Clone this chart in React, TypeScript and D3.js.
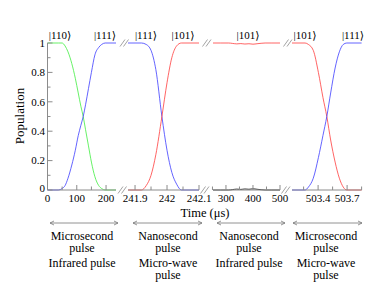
import React from "react";
import * as d3 from "d3";

// ---- data ----
const t1 = [0, 37, 50, 60, 70, 83, 95, 105, 114, 122, 130, 140, 150, 162, 175, 185, 197, 234];
const blue1 = [0, 0, 0.01, 0.03, 0.08, 0.17, 0.27, 0.37, 0.44, 0.5, 0.58, 0.69, 0.8, 0.92, 0.97, 0.99, 1, 1];
const green1 = [1, 1, 1, 0.98, 0.94, 0.86, 0.76, 0.66, 0.57, 0.5, 0.41, 0.3, 0.19, 0.09, 0.03, 0.01, 0, 0];

const t2 = [241.878, 241.92, 241.935, 241.95, 241.965, 241.984, 242.0, 242.015, 242.03, 242.045, 242.1];
const blue2 = [1, 1, 0.99, 0.95, 0.82, 0.5, 0.27, 0.12, 0.04, 0, 0];
const red2 = [0, 0, 0.03, 0.1, 0.24, 0.5, 0.73, 0.9, 0.98, 1, 1];

const t3 = [252, 280, 310, 325, 340, 355, 370, 385, 400, 415, 430, 445, 470, 500];
const red3 = [1, 1, 1, 0.997, 0.994, 0.996, 0.993, 0.995, 0.992, 0.995, 0.998, 1, 1, 1];
const black3 = [0, 0, 0, 0.003, 0.006, 0.004, 0.007, 0.005, 0.008, 0.005, 0.002, 0, 0, 0];

const t4 = [503.13, 503.265, 503.3, 503.35, 503.403, 503.45, 503.49, 503.53, 503.576, 503.62, 503.66, 503.697, 503.85];
const blue4 = [0, 0, 0.02, 0.08, 0.22, 0.37, 0.5, 0.66, 0.83, 0.94, 0.99, 1, 1];
const red4 = [1, 1, 0.99, 0.95, 0.8, 0.63, 0.5, 0.34, 0.19, 0.08, 0.02, 0, 0];

const ticks1 = [0, 50, 100, 150, 200];
const labels1 = ["0", "100", "200"];
const ticks2 = [241.9, 241.95, 242, 242.05, 242.1];
const labels2 = ["241.9", "242", "242.1"];
const ticks3 = [250, 300, 350, 400, 450, 500];
const labels3 = ["300", "400", "500"];
const ticks4 = [503.25, 503.4, 503.55, 503.7, 503.85];
const labels4 = ["503.4", "503.7"];

const yTicks = [0, 0.2, 0.4, 0.6, 0.8, 1];
const yMinor = [0.1, 0.3, 0.5, 0.7, 0.9];
const yLabels = ["0", "0.2", "0.4", "0.6", "0.8", "1"];

const stateLabels = [
  ["|110⟩", "|111⟩"],
  ["|111⟩", "|101⟩"],
  ["|101⟩"],
  ["|101⟩", "|111⟩"],
];

const captions = [
  ["Microsecond", "pulse", "Infrared pulse"],
  ["Nanosecond", "pulse", "Micro-wave", "pulse"],
  ["Nanosecond", "pulse", "Infrared pulse"],
  ["Microsecond", "pulse", "Micro-wave", "pulse"],
];

const GREEN = "#40ee40";
const BLUE = "#3c3cff";
const RED = "#ff3c3c";
const AXIS = "#8c8c8c";
const FONT = "Liberation Serif, Times New Roman, DejaVu Serif, serif";

type Series = { t: number[]; v: number[]; color: string };

const panels = [
  {
    domain: [0, 234], range: [47.5, 116],
    ticks: ticks1, labels: labels1, labelVals: [0, 100, 200],
    series: [{ t: t1, v: green1, color: GREEN }, { t: t1, v: blue1, color: BLUE }] as Series[],
    stateX: [60, 105],
  },
  {
    domain: [241.878, 242.1], range: [128, 199],
    ticks: ticks2, labels: labels2, labelVals: [241.9, 242, 242.1],
    series: [{ t: t2, v: blue2, color: BLUE }, { t: t2, v: red2, color: RED }] as Series[],
    stateX: [146, 183],
  },
  {
    domain: [252, 500], range: [213, 280],
    ticks: ticks3, labels: labels3, labelVals: [300, 400, 500],
    series: [{ t: t3, v: red3, color: RED }, { t: t3, v: black3, color: "#000" }] as Series[],
    stateX: [248],
  },
  {
    domain: [503.13, 503.85], range: [292, 361.6],
    ticks: ticks4, labels: labels4, labelVals: [503.4, 503.7],
    series: [{ t: t4, v: red4, color: RED }, { t: t4, v: blue4, color: BLUE }] as Series[],
    stateX: [305, 353],
  },
];

const breaks = [122.5, 205, 286];
const captionX = [82, 168, 249, 326];
const arrows = [[50, 118], [133, 202], [217, 285], [293, 362]];

const txt = { fontFamily: FONT };

export default function App() {
  const y = d3.scaleLinear().domain([0, 1]).range([190, 43]);
  const x0 = 47.5;

  const breakMark = (cx: number, cy: number, key: string) => (
    <g key={key} stroke={AXIS} strokeWidth={0.8}>
      <line x1={cx - 4.5} y1={cy + 3.5} x2={cx + 0.5} y2={cy - 3.5} />
      <line x1={cx - 1} y1={cy + 3.5} x2={cx + 4} y2={cy - 3.5} />
    </g>
  );

  return (
    <svg width={375} height={289} style={{ position: "absolute", left: 0, top: 0, background: "#fff" }}>
      {/* curves */}
      {panels.map((p, i) => {
        const x = d3.scaleLinear().domain(p.domain).range(p.range);
        return (
          <g key={"c" + i}>
            {p.series.map((s, j) => {
              const line = d3
                .line<number>()
                .x((_, k) => x(s.t[k]))
                .y((d) => y(d))
                .curve(d3.curveMonotoneX);
              return <path key={j} d={line(s.v) || ""} fill="none" stroke={s.color} strokeWidth={0.8} />;
            })}
          </g>
        );
      })}

      {/* y axis */}
      <line x1={x0} x2={x0} y1={y(0)} y2={y(1)} stroke={AXIS} strokeWidth={1} />
      {yTicks.map((v, i) => (
        <g key={"yt" + i}>
          <line x1={x0} x2={x0 + 5} y1={y(v)} y2={y(v)} stroke={AXIS} />
          <text x={45} y={y(v) + (v === 0 ? 1.5 : 3.8)} textAnchor="end" fontSize={11} fill="#000" style={txt}>
            {yLabels[i]}
          </text>
        </g>
      ))}
      {yMinor.map((v, i) => (
        <line key={"ym" + i} x1={x0} x2={x0 + 3} y1={y(v)} y2={y(v)} stroke={AXIS} />
      ))}

      {/* x axes */}
      {panels.map((p, i) => {
        const x = d3.scaleLinear().domain(p.domain).range(p.range);
        return (
          <g key={"xa" + i}>
            <line x1={p.range[0]} x2={p.range[1]} y1={190} y2={190} stroke={AXIS} strokeWidth={1} />
            {p.ticks.map((t, k) => (
              <line key={k} x1={x(t)} x2={x(t)} y1={190} y2={p.labelVals.includes(t) ? 185 : 186.5} stroke={AXIS} />
            ))}
            {p.labelVals.map((t, k) => (
              <text key={"l" + k} x={x(t)} y={202} textAnchor="middle" fontSize={11} fill="#000" style={txt}>
                {p.labels[k]}
              </text>
            ))}
            {p.stateX.map((sx, k) => (
              <text key={"s" + k} x={sx} y={39} textAnchor="middle" fontSize={11} fill="#000" style={txt}>
                {stateLabels[i][k]}
              </text>
            ))}
          </g>
        );
      })}

      {/* breaks */}
      {breaks.map((b, i) => (
        <g key={"b" + i}>
          {breakMark(b, 190, "bb" + i)}
          {breakMark(b + 2, 43, "bt" + i)}
        </g>
      ))}

      {/* axis titles */}
      <text x={205} y={217} textAnchor="middle" fontSize={12.5} fill="#000" style={txt}>
        Time (μs)
      </text>
      <text transform="translate(24,116) rotate(-90)" textAnchor="middle" fontSize={13} fill="#000" style={txt}>
        Population
      </text>

      {/* arrows */}
      {arrows.map(([a, b], i) => (
        <g key={"a" + i} stroke="#777" strokeWidth={0.8} fill="none">
          <line x1={a} x2={b} y1={223} y2={223} />
          <path d={`M${a + 4},${221} L${a},${223} L${a + 4},${225}`} />
          <path d={`M${b - 4},${221} L${b},${223} L${b - 4},${225}`} />
        </g>
      ))}

      {/* captions */}
      {captions.map((lines, i) => (
        <g key={"cap" + i}>
          {lines.map((ln, k) => (
            <text key={k} x={captionX[i]} y={239.5 + k * 12.8 + (k >= 2 ? 1.5 : 0)} textAnchor="middle" fontSize={12} fill="#000" style={txt}>
              {ln}
            </text>
          ))}
        </g>
      ))}
    </svg>
  );
}
